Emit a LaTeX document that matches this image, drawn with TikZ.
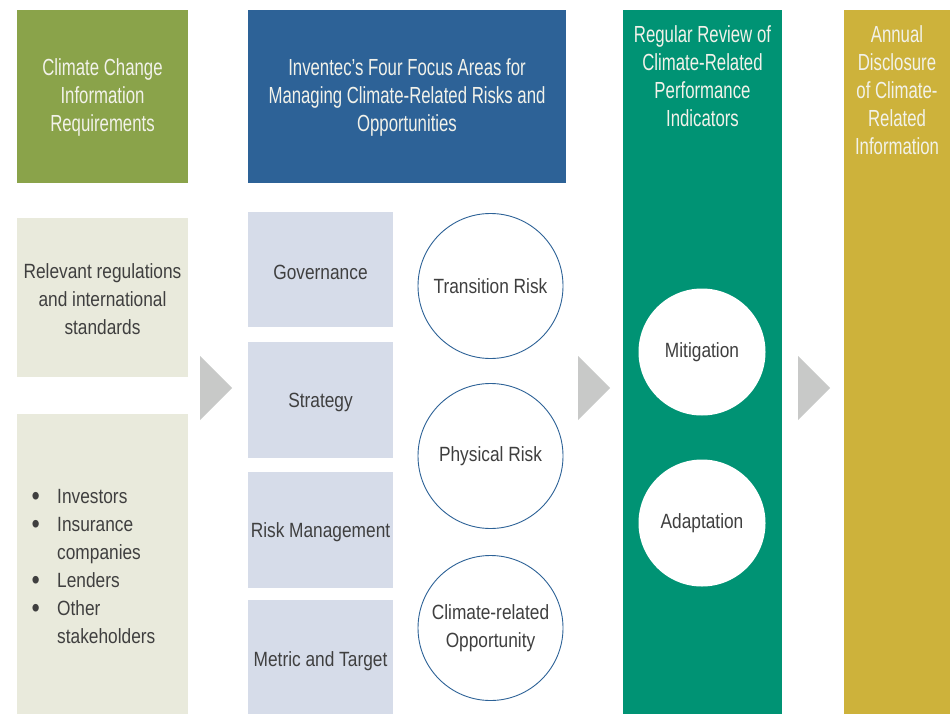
\documentclass[tikz,border=0pt]{standalone}
\usepackage{fontspec}
\setmainfont{Liberation Sans}
\newfontfamily\titlefont[FakeStretch=0.72]{Liberation Sans}
\newfontfamily\bodyfont[FakeStretch=0.84]{Liberation Sans}
\definecolor{cgreen}{HTML}{8AA34A}
\definecolor{cblue}{HTML}{2D6297}
\definecolor{cteal}{HTML}{009374}
\definecolor{cgold}{HTML}{CDB23B}
\definecolor{clight}{HTML}{E9EADC}
\definecolor{clav}{HTML}{D6DCE9}
\definecolor{cgrey}{HTML}{C8C9C8}
\definecolor{ctext}{HTML}{3F3F3F}
\definecolor{ctitle}{HTML}{F2F2EA}
\newcommand{\bigbul}{\raisebox{-1.5pt}{\fontsize{28}{28}\selectfont\textbullet}}
\tikzset{
  panel/.style={draw=none, inner sep=0pt, outer sep=0pt},
  titletxt/.style={text=ctitle, align=center, inner sep=0pt, font=\titlefont\fontsize{23.3}{28}\selectfont},
  bodytxt/.style={text=ctext, align=center, inner sep=0pt, font=\bodyfont\fontsize{20.6}{28}\selectfont},
  ring/.style={circle, draw=cblue, line width=0.9pt, fill=white, minimum size=145pt, inner sep=0pt, text=ctext, align=center, font=\bodyfont\fontsize{20.6}{28}\selectfont},
  wdisc/.style={circle, draw=none, fill=white, minimum size=127pt, inner sep=0pt, text=ctext, align=center, font=\bodyfont\fontsize{20.6}{28}\selectfont},
  chevron/.style={fill=cgrey, draw=none}
}
\begin{document}
\begin{tikzpicture}[x=1pt,y=-1pt]
\useasboundingbox (0,0) rectangle (952,714);
\fill[white] (0,0) rectangle (952,714);
% header boxes
\node[panel, fill=cgreen, minimum width=171pt, minimum height=173pt] (ccbox) at (102.5,96.5) {};
\node[titletxt] (cctxt) at (102.5,97) {Climate Change\\Information\\Requirements};
\node[panel, fill=cblue, minimum width=318pt, minimum height=173pt] (fabox) at (407,96.5) {};
\node[titletxt] (fatxt) at (407,97) {Inventec’s Four Focus Areas for\\Managing Climate-Related Risks and\\Opportunities};
\node[panel, fill=cteal, minimum width=159pt, minimum height=704pt] (rrbox) at (702.5,362) {};
\node[titletxt] (rrtxt) at (702.5,76.5) {Regular Review of\\Climate-Related\\Performance\\Indicators};
\node[panel, fill=cgold, minimum width=106pt, minimum height=704pt] (adbox) at (897,362) {};
\node[titletxt] (adtxt) at (897,90.5) {Annual\\Disclosure\\of Climate-\\Related\\Information};
% left column
\node[panel, fill=clight, minimum width=171pt, minimum height=159pt] (regbox) at (102.5,297.5) {};
\node[bodytxt] (regtxt) at (102.5,299) {Relevant regulations\\and international\\standards};
\node[panel, fill=clight, minimum width=171pt, minimum height=300pt] (stbox) at (102.5,564) {};
\node[text=ctext, inner sep=0pt, anchor=west, font=\bodyfont\fontsize{20.6}{28}\selectfont] (sttxt) at (31.5,568) {%
\begin{tabular}{@{}p{25.5pt}@{}l@{}}
\bigbul & Investors\\
\bigbul & Insurance\\
 & companies\\
\bigbul & Lenders\\
\bigbul & Other\\
 & stakeholders
\end{tabular}};
% focus areas
\node[panel, fill=clav, minimum width=145pt, minimum height=115pt] (gov) at (320.5,269.5) {};
\node[bodytxt] (govt) at (320.5,272) {Governance};
\node[panel, fill=clav, minimum width=145pt, minimum height=116pt] (str) at (320.5,400) {};
\node[bodytxt] (strt) at (320.5,402) {Strategy};
\node[panel, fill=clav, minimum width=145pt, minimum height=116pt] (rm) at (320.5,530) {};
\node[bodytxt] (rmt) at (320.5,532) {Risk Management};
\node[panel, fill=clav, minimum width=145pt, minimum height=114pt] (mt) at (320.5,657) {};
\node[bodytxt] (mtt) at (320.5,661) {Metric and Target};
% circles
\node[ring] (trans) at (490.5,286) {Transition Risk};
\node[ring] (phys) at (490.5,456) {Physical Risk};
\node[ring] (opp) at (490.5,628) {Climate-related\\Opportunity};
\node[wdisc] (mit) at (702,352) {Mitigation};
\node[wdisc] (ada) at (702,523) {Adaptation};
% chevrons
\fill[chevron] (200,356) -- (232,388) -- (200,420) -- cycle;
\fill[chevron] (578,356) -- (610,388) -- (578,420) -- cycle;
\fill[chevron] (798,356) -- (830,388) -- (798,420) -- cycle;
\end{tikzpicture}
\end{document}
